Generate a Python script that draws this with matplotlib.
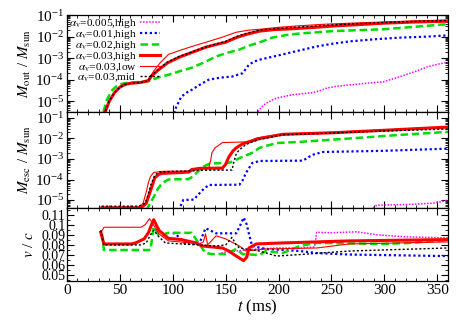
import matplotlib
matplotlib.use("Agg")
import matplotlib.pyplot as plt
from matplotlib.ticker import MultipleLocator, FixedLocator, LogLocator, NullFormatter

plt.rcParams['font.family'] = ['Liberation Serif', 'DejaVu Serif']
plt.rcParams['mathtext.fontset'] = 'stix'

# ---------------- data ----------------
labels = [r"$\alpha_{\rm v}$=0.005,high", r"$\alpha_{\rm v}$=0.01,high", r"$\alpha_{\rm v}$=0.02,high",
          r"$\alpha_{\rm v}$=0.03,high", r"$\alpha_{\rm v}$=0.03,low", r"$\alpha_{\rm v}$=0.03,mid"]

# M_out (top panel)
t_out_005 = [176, 180, 184, 188, 198, 213, 232, 240, 245, 255, 267, 285, 299, 315, 330, 341, 350, 360]
m_out_005 = [1e-6, 3e-6, 5.5e-6, 8e-6, 1.4e-5, 2e-5, 2.5e-5, 3.2e-5, 4e-5, 5e-5, 5.7e-5, 7e-5, 8e-5,
             1.4e-4, 2.5e-4, 4e-4, 5.2e-4, 6.5e-4]
t_out_010 = [99, 103, 108, 113, 118, 126, 134, 145, 156, 166, 172, 177, 182, 192, 204, 220, 236, 250, 267,
             290, 315, 340, 360]
m_out_010 = [1e-6, 5e-6, 1.6e-5, 2.5e-5, 3.4e-5, 6e-5, 1e-4, 1.25e-4, 1.4e-4, 2e-4, 5e-4, 7e-4, 8.5e-4,
             1.1e-3, 1.5e-3, 2.3e-3, 3.5e-3, 4.6e-3, 6e-3, 7.5e-3, 9e-3, 1e-2, 1.15e-2]
t_out_020 = [32, 35, 38, 42, 47, 52, 58, 65, 77, 87, 96, 108, 118, 130, 141, 152, 163, 172, 182, 194, 208,
             220, 251, 299, 330, 360]
m_out_020 = [1e-6, 4e-6, 1.2e-5, 3e-5, 5e-5, 6.5e-5, 7.2e-5, 7.6e-5, 8.5e-5, 1.3e-4, 1.7e-4, 2.6e-4, 3.6e-4,
             6.5e-4, 1.2e-3, 1.8e-3, 2.5e-3, 3.8e-3, 5.4e-3, 9e-3, 1.2e-2, 1.4e-2, 1.8e-2, 2.2e-2, 2.9e-2, 3.8e-2]
t_out_030h = [33, 36, 40, 45, 50, 55, 60, 70, 77, 80, 87, 95, 106, 120, 131, 140, 150, 160, 169, 182, 195,
              204, 230, 251, 275, 299, 330, 360]
m_out_030h = [1e-6, 3e-6, 1e-5, 2.5e-5, 4.5e-5, 6e-5, 6.8e-5, 7.5e-5, 9e-5, 1.5e-4, 3e-4, 6e-4, 1.1e-3,
              2e-3, 3.2e-3, 4.2e-3, 5.5e-3, 9e-3, 1.25e-2, 1.8e-2, 2.1e-2, 2.2e-2, 2.6e-2, 3.1e-2, 3.6e-2,
              4.2e-2, 4.8e-2, 5.2e-2]
t_out_030l = [33, 36, 40, 45, 50, 55, 60, 70, 77, 82, 88, 96, 110, 122, 134, 147, 160, 172, 182, 200, 220,
              245, 267, 300, 330, 360]
m_out_030l = [1e-6, 3e-6, 1e-5, 2.5e-5, 4.5e-5, 6e-5, 6.8e-5, 7.5e-5, 1e-4, 2.5e-4, 6e-4, 1.5e-3, 2.6e-3,
              4e-3, 6e-3, 9.5e-3, 1.6e-2, 2e-2, 2.2e-2, 2.7e-2, 3.2e-2, 3.8e-2, 4.2e-2, 4.8e-2, 5.4e-2, 5.9e-2]
t_out_030m = [33, 36, 40, 45, 50, 55, 60, 70, 77, 80, 87, 95, 106, 120, 131, 140, 150, 160, 169, 182, 204,
              230, 251, 275, 299, 330, 360]
m_out_030m = [1e-6, 3e-6, 1e-5, 2.5e-5, 4.5e-5, 6e-5, 6.8e-5, 7.5e-5, 9e-5, 1.6e-4, 3.2e-4, 6.5e-4, 1.2e-3,
              2.1e-3, 3.3e-3, 4.4e-3, 6e-3, 1e-2, 1.4e-2, 2e-2, 2.5e-2, 3e-2, 3.5e-2, 4e-2, 4.5e-2, 5.1e-2, 5.6e-2]

# M_esc (middle panel)
t_esc_005 = [288, 290, 293, 320, 346, 355, 360]
m_esc_005 = [3e-6, 4.5e-6, 5.6e-6, 6e-6, 7e-6, 8.5e-6, 1e-5]
t_esc_010 = [106, 108, 110, 120, 124, 128, 134, 163, 166, 169, 175, 182, 223, 228, 232, 242, 299, 360]
m_esc_010 = [3e-6, 6e-6, 1e-5, 1.05e-5, 1.8e-5, 3e-5, 5.4e-5, 5.6e-5, 9e-5, 2e-4, 6.3e-4, 8e-4, 8.3e-4,
             1.2e-3, 1.6e-3, 2.2e-3, 2.5e-3, 3.2e-3]
t_esc_020 = [75, 78, 82, 86, 90, 96, 115, 119, 122, 128, 135, 153, 158, 163, 175, 182, 198, 220, 267, 315, 360]
m_esc_020 = [3e-6, 6e-6, 1.4e-5, 3.5e-5, 6.7e-5, 1e-4, 1.05e-4, 1.4e-4, 2e-4, 4e-4, 6e-4, 6.5e-4, 8e-4,
             1.1e-3, 2e-3, 3.5e-3, 6e-3, 6.8e-3, 1e-2, 1.5e-2, 2.1e-2]
t_esc_030h = [33, 40, 68, 72, 75, 78, 80, 83, 87, 90, 100, 115, 118, 125, 147, 150, 153, 157, 160, 166, 172,
              182, 204, 251, 299, 360]
m_esc_030h = [4.2e-6, 4.2e-6, 4.2e-6, 5e-6, 7e-6, 2e-5, 4e-5, 1.2e-4, 1.8e-4, 2e-4, 2.1e-4, 2.3e-4, 2.9e-4,
              3.5e-4, 3.6e-4, 5.5e-4, 1.25e-3, 2.5e-3, 3.5e-3, 5.5e-3, 6.8e-3, 1e-2, 1.6e-2, 1.9e-2, 2.5e-2, 3.6e-2]
t_esc_030l = [33, 40, 68, 72, 75, 77, 79, 82, 90, 115, 118, 134, 136, 137, 140, 147, 169, 175, 179, 190, 204,
              251, 299, 360]
m_esc_030l = [4.2e-6, 4.2e-6, 4.2e-6, 7e-6, 2.5e-5, 7e-5, 1.4e-4, 2.2e-4, 2.5e-4, 2.6e-4, 3.5e-4, 3.6e-4,
              9e-4, 2e-3, 3.5e-3, 6.3e-3, 6.8e-3, 8.5e-3, 1.05e-2, 1.3e-2, 1.65e-2, 2e-2, 2.6e-2, 3.7e-2]
t_esc_030m = [33, 40, 68, 74, 77, 79, 83, 87, 100, 118, 125, 156, 158, 160, 163, 169, 175, 182, 204, 251,
              299, 360]
m_esc_030m = [5e-6, 5e-6, 5e-6, 7e-6, 2e-5, 5e-5, 1.6e-4, 2.3e-4, 2.5e-4, 2.6e-4, 2.8e-4, 2.9e-4, 8e-4,
              1.8e-3, 2.8e-3, 5e-3, 6.8e-3, 9e-3, 1.5e-2, 1.85e-2, 2.3e-2, 2.9e-2]

# v/c (bottom panel)
t_v_005 = [146, 150, 160, 170, 180, 198, 220, 234, 236, 250, 274, 293, 320, 360]
v_005 = [0.072, 0.073, 0.074, 0.075, 0.076, 0.077, 0.077, 0.078, 0.0925, 0.092, 0.093, 0.09, 0.088, 0.087]
t_v_010 = [100, 102, 106, 112, 125, 131, 141, 160, 164, 167, 170, 172, 175, 188, 220, 236, 267, 360]
v_010 = [0.0915, 0.0915, 0.0875, 0.081, 0.081, 0.0965, 0.0915, 0.0915, 0.1, 0.107, 0.1, 0.091, 0.079, 0.076,
         0.074, 0.072, 0.0705, 0.069]
t_v_020 = [33, 35, 79, 82, 87, 96, 118, 123, 131, 137, 150, 160, 166, 182, 188, 204, 220, 236, 299, 324, 360]
v_020 = [0.092, 0.075, 0.075, 0.098, 0.089, 0.092, 0.092, 0.084, 0.072, 0.071, 0.071, 0.076, 0.071, 0.07,
         0.074, 0.072, 0.079, 0.082, 0.081, 0.082, 0.085]
t_v_030h = [32, 35, 61, 65, 69, 73, 77, 80, 82, 87, 96, 108, 122, 128, 147, 153, 160, 167, 170, 172, 179,
            204, 267, 360]
v_030h = [0.0925, 0.081, 0.081, 0.082, 0.084, 0.086, 0.092, 0.1, 0.105, 0.0945, 0.0865, 0.0853, 0.082, 0.079,
          0.077, 0.074, 0.069, 0.0645, 0.068, 0.077, 0.081, 0.082, 0.084, 0.0853]
t_v_030l = [32, 35, 70, 74, 78, 80, 84, 87, 96, 118, 125, 129, 131, 133, 141, 150, 163, 169, 188, 236, 267, 360]
v_030l = [0.092, 0.0975, 0.0975, 0.1, 0.106, 0.103, 0.096, 0.091, 0.084, 0.082, 0.081, 0.083, 0.091, 0.08,
          0.089, 0.086, 0.079, 0.074, 0.076, 0.077, 0.081, 0.083]
t_v_030m = [32, 35, 70, 75, 79, 82, 87, 93, 108, 141, 150, 156, 160, 163, 182, 198, 220, 267, 360]
v_030m = [0.0945, 0.08, 0.08, 0.082, 0.09, 0.0945, 0.088, 0.082, 0.081, 0.079, 0.08, 0.0875, 0.08, 0.077,
          0.074, 0.069, 0.0705, 0.074, 0.077]

v_ticks = [0.05, 0.06, 0.07, 0.08, 0.09, 0.1, 0.11]

# line styles: magenta, blue, green, red thick, red thin, black
styles = [
    dict(color='#ff00ff', lw=1.1, ls=(0, (1, 1))),
    dict(color='#0000ff', lw=1.6, ls=(0, (1, 1.2))),
    dict(color='#00dd00', lw=1.8, ls=(0, (3, 1.5))),
    dict(color='#ff0000', lw=2.2, ls='-'),
    dict(color='#ff0000', lw=0.8, ls='-'),
    dict(color='#000000', lw=1.0, ls=(0, (1.5, 1.5))),
]

# ---------------- figure ----------------
fig = plt.figure(figsize=(4.58, 3.21), dpi=100)
left, width = 0.146, 0.832
ax1 = fig.add_axes([left, 0.651, width, 0.302])
ax2 = fig.add_axes([left, 0.352, width, 0.299])
ax3 = fig.add_axes([left, 0.125, width, 0.227])

top_data = [(t_out_005, m_out_005), (t_out_010, m_out_010), (t_out_020, m_out_020),
            (t_out_030h, m_out_030h), (t_out_030l, m_out_030l), (t_out_030m, m_out_030m)]
mid_data = [(t_esc_005, m_esc_005), (t_esc_010, m_esc_010), (t_esc_020, m_esc_020),
            (t_esc_030h, m_esc_030h), (t_esc_030l, m_esc_030l), (t_esc_030m, m_esc_030m)]
bot_data = [(t_v_005, v_005), (t_v_010, v_010), (t_v_020, v_020),
            (t_v_030h, v_030h), (t_v_030l, v_030l), (t_v_030m, v_030m)]

for (t, y), st, lab in zip(top_data, styles, labels):
    ax1.plot(t, y, label=lab, **st)
for (t, y), st in zip(mid_data, styles):
    ax2.plot(t, y, **st)
for (t, y), st in zip(bot_data, styles):
    ax3.plot(t, y, **st)

ax1.set_yscale('log')
ax2.set_yscale('log')
ax1.set_ylim(10 ** -5.5, 1e-1)
ax2.set_ylim(10 ** -5.39, 10 ** -0.71)
ax3.set_ylim(0.0445, 0.1165)

for ax in (ax1, ax2):
    ax.yaxis.set_major_locator(FixedLocator([1e-5, 1e-4, 1e-3, 1e-2, 1e-1]))
    ax.yaxis.set_minor_locator(LogLocator(base=10, subs=range(2, 10), numticks=20))
    ax.yaxis.set_minor_formatter(NullFormatter())

ax3.yaxis.set_major_locator(FixedLocator(v_ticks))
ax3.yaxis.set_minor_locator(MultipleLocator(0.005))
ax3.set_yticklabels(['%g' % v for v in v_ticks])

for ax in (ax1, ax2, ax3):
    ax.set_xlim(0, 360)
    ax.xaxis.set_major_locator(MultipleLocator(50))
    ax.xaxis.set_minor_locator(MultipleLocator(10))
    ax.tick_params(which='both', direction='in', top=True, right=True, labelsize=11, pad=2)
    ax.tick_params(which='major', length=5, width=0.8)
    ax.tick_params(which='minor', length=2.5, width=0.6)
    for s in ax.spines.values():
        s.set_linewidth(0.9)

ax1.tick_params(labelbottom=False)
ax2.tick_params(labelbottom=False)
ax3.tick_params(axis='y', labelsize=10, pad=1)

ax1.set_ylabel(r"$M_{\rm out}$ / $M_{\rm sun}$", fontsize=11, labelpad=2)
ax2.set_ylabel(r"$M_{\rm esc}$ / $M_{\rm sun}$", fontsize=11, labelpad=2)
ax3.set_ylabel(r"$v$ / $c$", fontsize=11, labelpad=4)
ax3.set_xlabel(r"$t$ (ms)", fontsize=12, labelpad=1)
fig.align_ylabels([ax1, ax2, ax3])

ax1.legend(loc='upper left', fontsize=8.2, frameon=False, markerfirst=False,
           labelspacing=-0.18, handlelength=1.7, handletextpad=0.3,
           borderaxespad=0.05, borderpad=0.15)

plt.savefig("out.png", dpi=100)
